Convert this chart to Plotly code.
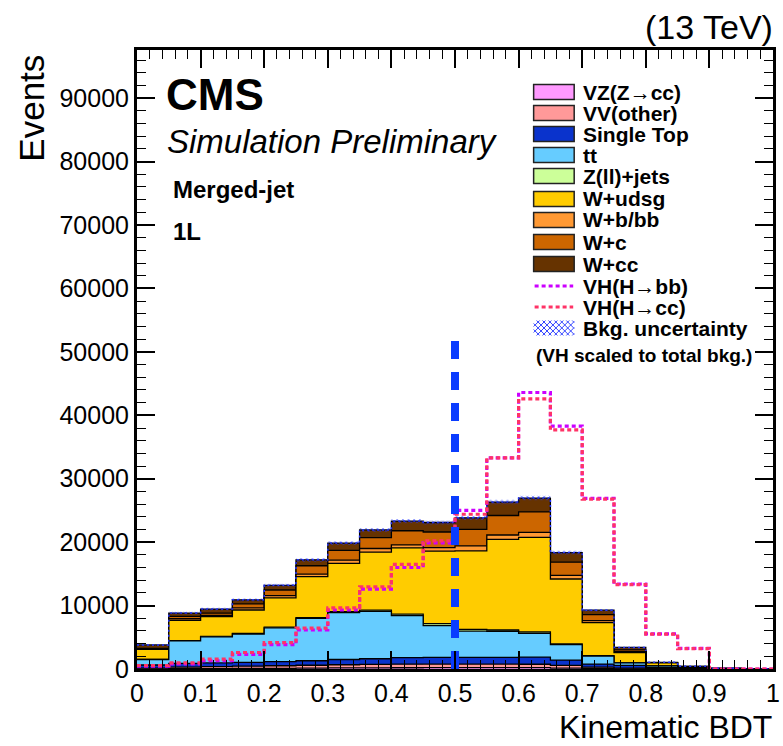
import numpy as np
import plotly.graph_objects as go

# Kinematic BDT binning: 20 bins of width 0.05
bin_edges = [0.00, 0.05, 0.10, 0.15, 0.20, 0.25, 0.30, 0.35, 0.40, 0.45, 0.50,
             0.55, 0.60, 0.65, 0.70, 0.75, 0.80, 0.85, 0.90, 0.95, 1.00]

# Background yields per bin (stacked bottom -> top)
vz_cc = [30, 60, 70, 90, 110, 140, 170, 190, 200, 210, 220, 220, 210, 150, 80, 30, 10, 5, 0, 0]
vv_other = [120, 250, 300, 350, 400, 450, 500, 530, 560, 570, 560, 560, 540, 420, 220, 90, 30, 10, 0, 0]
single_top = [480, 580, 580, 610, 640, 710, 830, 900, 1040, 1050, 1050, 1050, 1130, 840, 480, 440, 210, 85, 0, 0]
ttbar = [870, 3530, 4130, 4470, 5350, 6680, 7400, 7480, 6610, 5020, 4140, 4120, 3760, 2430, 1260, 410, 240, 100, 10, 0]
zll_jets = [20, 60, 70, 80, 100, 120, 150, 180, 250, 300, 280, 200, 200, 120, 60, 20, 10, 0, 0, 0]
w_udsg = [1560, 3190, 3100, 3700, 4600, 6450, 7600, 9140, 10440, 11450, 12370, 14300, 14920, 10230, 5200, 1610, 450, 180, 70, 0]
w_bbb = [70, 250, 200, 340, 370, 420, 510, 580, 460, 540, 780, 680, 790, 570, 320, 150, 30, 10, 5, 0]
w_c = [100, 380, 350, 630, 890, 1310, 1540, 1710, 2240, 2460, 2600, 3070, 3210, 2090, 940, 250, 30, 10, 5, 0]
w_cc = [550, 520, 650, 630, 740, 930, 1150, 1220, 1520, 1500, 1840, 2120, 2190, 1510, 720, 400, 40, 20, 10, 0]

# Background uncertainty per bin
bkg_unc = [120, 200, 200, 220, 250, 280, 300, 310, 330, 330, 340, 360, 360, 300, 200, 120, 60, 40, 20, 0]

# Signals, scaled to the total background
vh_bb = [450, 800, 1300, 2300, 3850, 6150, 9300, 12600, 16000, 19900, 25000, 33300, 43600, 38300, 26900, 13400, 5550, 3250, 0, 0]
vh_cc = [550, 950, 1550, 2600, 4150, 6450, 9650, 12950, 16500, 20200, 24400, 33300, 42600, 37700, 26800, 13300, 5500, 3200, 0, 0]

# Working-point cut line
cut_x = 0.5
cut_top = 53500

tick_vals_y = [0, 10000, 20000, 30000, 40000, 50000, 60000, 70000, 80000, 90000]
tick_text_y = ["0", "10000", "20000", "30000", "40000", "50000", "60000", "70000", "80000", "90000"]
tick_vals_x = [0, 0.1, 0.2, 0.3, 0.4, 0.5, 0.6, 0.7, 0.8, 0.9, 1.0]
tick_text_x = ["0", "0.1", "0.2", "0.3", "0.4", "0.5", "0.6", "0.7", "0.8", "0.9", "1"]

backgrounds = [
    ("VZ(Z→cc)", vz_cc, "#ff99ff"),
    ("VV(other)", vv_other, "#ff9999"),
    ("Single Top", single_top, "#0a33cc"),
    ("tt", ttbar, "#66ccff"),
    ("Z(ll)+jets", zll_jets, "#ccff99"),
    ("W+udsg", w_udsg, "#ffcc00"),
    ("W+b/bb", w_bbb, "#ff9933"),
    ("W+c", w_c, "#cc6600"),
    ("W+cc", w_cc, "#663300"),
]

FONT = "Liberation Sans, Arial, Helvetica, sans-serif"

W, H = 783, 746
L, R, T, B = 137, 3, 50, 77
PW, PH = W - L - R, H - T - B


def px(xp):
    return (xp - L) / PW


def py(yp):
    return (H - B - yp) / PH


def step_y(vals):
    v = list(vals)
    return v + [v[-1]]


fig = go.Figure()

# Stacked backgrounds: cumulative sums drawn from the top layer down
cum = np.cumsum(np.array([b[1] for b in backgrounds], dtype=float), axis=0)
for i in range(len(backgrounds) - 1, -1, -1):
    name, _, color = backgrounds[i]
    fig.add_trace(go.Scatter(
        x=bin_edges, y=step_y(cum[i]), mode="lines", line_shape="hv",
        line=dict(color="black", width=1.3), fill="tozeroy", fillcolor=color,
        name=name, showlegend=False, hoverinfo="skip"))

total = cum[-1]
unc = np.array(bkg_unc, dtype=float)
fig.add_trace(go.Scatter(
    x=bin_edges, y=step_y(total + unc), mode="lines", line_shape="hv",
    line=dict(color="rgba(0,0,0,0)", width=0), showlegend=False, hoverinfo="skip"))
fig.add_trace(go.Scatter(
    x=bin_edges, y=step_y(total - unc), mode="lines", line_shape="hv",
    line=dict(color="rgba(0,0,0,0)", width=0), fill="tonexty",
    fillcolor="rgba(0,0,0,0)",
    fillpattern=dict(shape="x", fgcolor="#2233ff", bgcolor="rgba(0,0,0,0)", size=4, solidity=0.4),
    name="Bkg. uncertainty", showlegend=False, hoverinfo="skip"))
fig.add_trace(go.Scatter(
    x=bin_edges, y=step_y(total), mode="lines", line_shape="hv",
    line=dict(color="#2233ff", width=1.5, dash="2px,3px"), showlegend=False, hoverinfo="skip"))

# VH signal shapes
fig.add_trace(go.Scatter(
    x=bin_edges, y=step_y(vh_bb), mode="lines", line_shape="hv",
    line=dict(color="#cc00ff", width=3.2, dash="4px,3px"), name="VH(H→bb)",
    showlegend=False, hoverinfo="skip"))
fig.add_trace(go.Scatter(
    x=bin_edges, y=step_y(vh_cc), mode="lines", line_shape="hv",
    line=dict(color="#ff3366", width=3.2, dash="4px,3px"), name="VH(H→cc)",
    showlegend=False, hoverinfo="skip"))

# Dashed cut line
fig.add_trace(go.Scatter(
    x=[cut_x, cut_x], y=[0, cut_top], mode="lines",
    line=dict(color="#0a3cff", width=8, dash="18px,13px"),
    showlegend=False, hoverinfo="skip"))

axis_common = dict(
    showline=True, linecolor="black", linewidth=3, mirror="allticks",
    ticks="inside", ticklen=18, tickwidth=1.5, tickcolor="black",
    showgrid=False, zeroline=False, ticklabeloverflow="allow",
    tickfont=dict(family=FONT, size=25, color="black"),
)

fig.update_xaxes(range=[0, 1], tickvals=tick_vals_x, ticktext=tick_text_x,
                 minor=dict(dtick=0.02, ticks="inside", ticklen=9, tickwidth=1.2,
                            tickcolor="black", showgrid=False),
                 **axis_common)
fig.update_yaxes(range=[0, 97600], tickvals=tick_vals_y, ticktext=tick_text_y,
                 minor=dict(dtick=2000, ticks="inside", ticklen=9, tickwidth=1.2,
                            tickcolor="black", showgrid=False),
                 **axis_common)

ann = []
shapes = []

# Axis titles and labels
ann.append(dict(text="Events", x=px(30), y=py(53), xref="paper", yref="paper",
                xanchor="center", yanchor="top", textangle=-90, showarrow=False,
                font=dict(family=FONT, size=35, color="black")))
ann.append(dict(text="Kinematic BDT", x=px(781), y=py(727), xref="paper", yref="paper",
                xanchor="right", yanchor="middle", showarrow=False,
                font=dict(family=FONT, size=32, color="black")))
ann.append(dict(text="(13 TeV)", x=px(782), y=py(27), xref="paper", yref="paper",
                xanchor="right", yanchor="middle", showarrow=False,
                font=dict(family=FONT, size=34, color="black")))
ann.append(dict(text="<b>CMS</b>", x=px(164), y=py(94), xref="paper", yref="paper",
                xanchor="left", yanchor="middle", showarrow=False,
                font=dict(family=FONT, size=44, color="black")))
ann.append(dict(text="<i>Simulation Preliminary</i>", x=px(165), y=py(141), xref="paper", yref="paper",
                xanchor="left", yanchor="middle", showarrow=False,
                font=dict(family=FONT, size=33, color="black")))
ann.append(dict(text="<b>Merged-jet</b>", x=px(171), y=py(189), xref="paper", yref="paper",
                xanchor="left", yanchor="middle", showarrow=False,
                font=dict(family=FONT, size=24, color="black")))
ann.append(dict(text="<b>1L</b>", x=px(171), y=py(232), xref="paper", yref="paper",
                xanchor="left", yanchor="middle", showarrow=False,
                font=dict(family=FONT, size=24, color="black")))

# Legend
rows = [92, 113, 134, 155, 176, 199, 220, 242, 264]
box_x0, box_x1, text_x = 538, 579, 586
LEG_SIZE = 21
for (name, _, color), ry in zip(backgrounds, rows):
    shapes.append(dict(type="rect", xref="paper", yref="paper",
                       x0=px(box_x0), x1=px(box_x1), y0=py(ry + 7.5), y1=py(ry - 7.5),
                       fillcolor=color, line=dict(color="#222222", width=1.5)))
    ann.append(dict(text="<b>%s</b>" % name, x=px(text_x), y=py(ry), xref="paper", yref="paper",
                    xanchor="left", yanchor="middle", showarrow=False,
                    font=dict(family=FONT, size=LEG_SIZE, color="black")))

for name, color, ry in [("VH(H→bb)", "#cc00ff", 286), ("VH(H→cc)", "#ff3366", 307)]:
    shapes.append(dict(type="line", xref="paper", yref="paper",
                       x0=px(box_x0 + 1), x1=px(box_x1 - 1), y0=py(ry), y1=py(ry),
                       line=dict(color=color, width=3, dash="4px,3px")))
    ann.append(dict(text="<b>%s</b>" % name, x=px(text_x), y=py(ry), xref="paper", yref="paper",
                    xanchor="left", yanchor="middle", showarrow=False,
                    font=dict(family=FONT, size=LEG_SIZE, color="black")))

# Cross-hatched swatch for the uncertainty entry
ry = 328
hx0, hx1, hy0, hy1 = box_x0, box_x1, ry - 7.5, ry + 7.5
path = ""
step = 6
k = hx0 - (hy1 - hy0)
while k < hx1:
    xa, ya = k, hy0
    xb, yb = k + (hy1 - hy0), hy1
    if xa < hx0:
        ya = hy0 + (hx0 - xa); xa = hx0
    if xb > hx1:
        yb = hy1 - (xb - hx1); xb = hx1
    if xb > xa:
        path += "M%.4f,%.4f L%.4f,%.4f " % (px(xa), py(ya), px(xb), py(yb))
    xa, ya = k, hy1
    xb, yb = k + (hy1 - hy0), hy0
    if xa < hx0:
        ya = hy1 - (hx0 - xa); xa = hx0
    if xb > hx1:
        yb = hy0 + (xb - hx1); xb = hx1
    if xb > xa:
        path += "M%.4f,%.4f L%.4f,%.4f " % (px(xa), py(ya), px(xb), py(yb))
    k += step
shapes.append(dict(type="path", xref="paper", yref="paper", path=path,
                   line=dict(color="#3344ff", width=1)))
ann.append(dict(text="<b>Bkg. uncertainty</b>", x=px(text_x), y=py(ry), xref="paper", yref="paper",
                xanchor="left", yanchor="middle", showarrow=False,
                font=dict(family=FONT, size=LEG_SIZE, color="black")))
ann.append(dict(text="<b>(VH scaled to total bkg.)</b>", x=px(538), y=py(355), xref="paper", yref="paper",
                xanchor="left", yanchor="middle", showarrow=False,
                font=dict(family=FONT, size=19, color="black")))

fig.update_layout(
    width=W, height=H,
    margin=dict(l=L, r=R, t=T, b=B, pad=0),
    paper_bgcolor="white", plot_bgcolor="white",
    showlegend=False,
    annotations=ann, shapes=shapes,
    font=dict(family=FONT, color="black"),
)

fig.write_html("out.html")
